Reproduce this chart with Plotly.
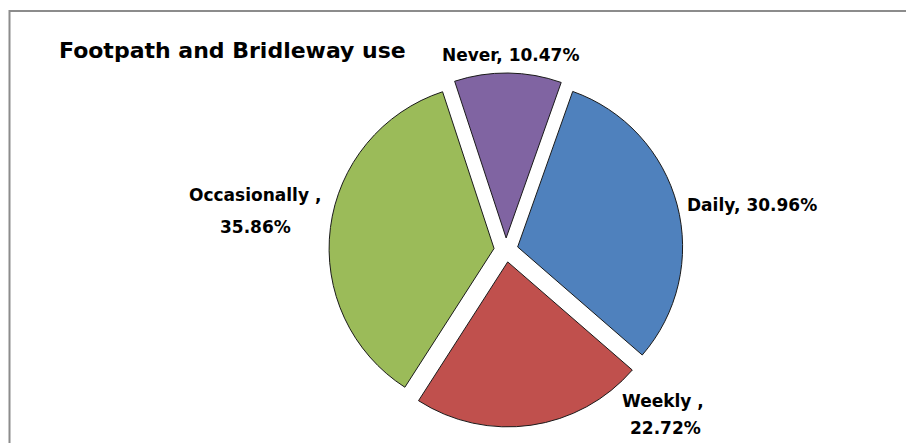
import plotly.graph_objects as go

categories = ["Daily", "Weekly", "Occasionally", "Never"]
values = [30.96, 22.72, 35.86, 10.47]
colors = ["#4F81BD", "#C0504D", "#9BBB59", "#8064A2"]
title_text = "Footpath and Bridleway use"

W, H = 906, 443
FONT = "DejaVu Sans"

fig = go.Figure()
fig.add_trace(go.Pie(
    labels=categories,
    values=values,
    sort=False,
    direction="clockwise",
    rotation=19.5,
    pull=[0.073] * 4,
    marker=dict(colors=colors, line=dict(color="#1a1a1a", width=1)),
    textinfo="none",
    hoverinfo="label+percent",
    showlegend=False,
    domain=dict(x=[0.3631, 0.7539], y=[1 - 427 / H, 1 - 73 / H]),
))

# label lines: one-line labels "Name, v%", two-line labels "Name ," / "v%"
# placement in pixels: list of (x, y, xanchor) per line
label_layout = {
    "Daily": [(685, 204.5, "left")],
    "Weekly": [(663, 400.5, "center"), (665, 428, "center")],
    "Occasionally": [(255, 195, "center"), (255, 226.5, "center")],
    "Never": [(510, 55, "center")],
}

def add_text(txt, px, py, anchor, size):
    fig.add_annotation(
        text=txt, x=px / W, y=1 - py / H, xref="paper", yref="paper",
        xanchor=anchor, yanchor="middle", showarrow=False, align="center",
        font=dict(family=FONT, size=size, color="#000000", weight="bold"),
    )

for cat, val in zip(categories, values):
    pos = label_layout[cat]
    if len(pos) == 1:
        add_text(f"{cat}, {val:.2f}%", *pos[0], 17)
    else:
        add_text(f"{cat} ,", *pos[0], 17)
        add_text(f"{val:.2f}%", *pos[1], 17)

add_text(title_text, 57, 50.5, "left", 22)

fig.add_shape(type="rect", xref="paper", yref="paper",
              x0=9.5 / W, x1=1.05, y0=-0.05, y1=1 - 11 / H,
              line=dict(color="#8c8c8c", width=2), fillcolor="rgba(0,0,0,0)")

fig.update_layout(
    width=W, height=H,
    margin=dict(l=0, r=0, t=0, b=0),
    paper_bgcolor="white", plot_bgcolor="white",
)

fig.write_html("out.html", config={"displayModeBar": False},
               post_script="document.body.style.margin='0px';")
